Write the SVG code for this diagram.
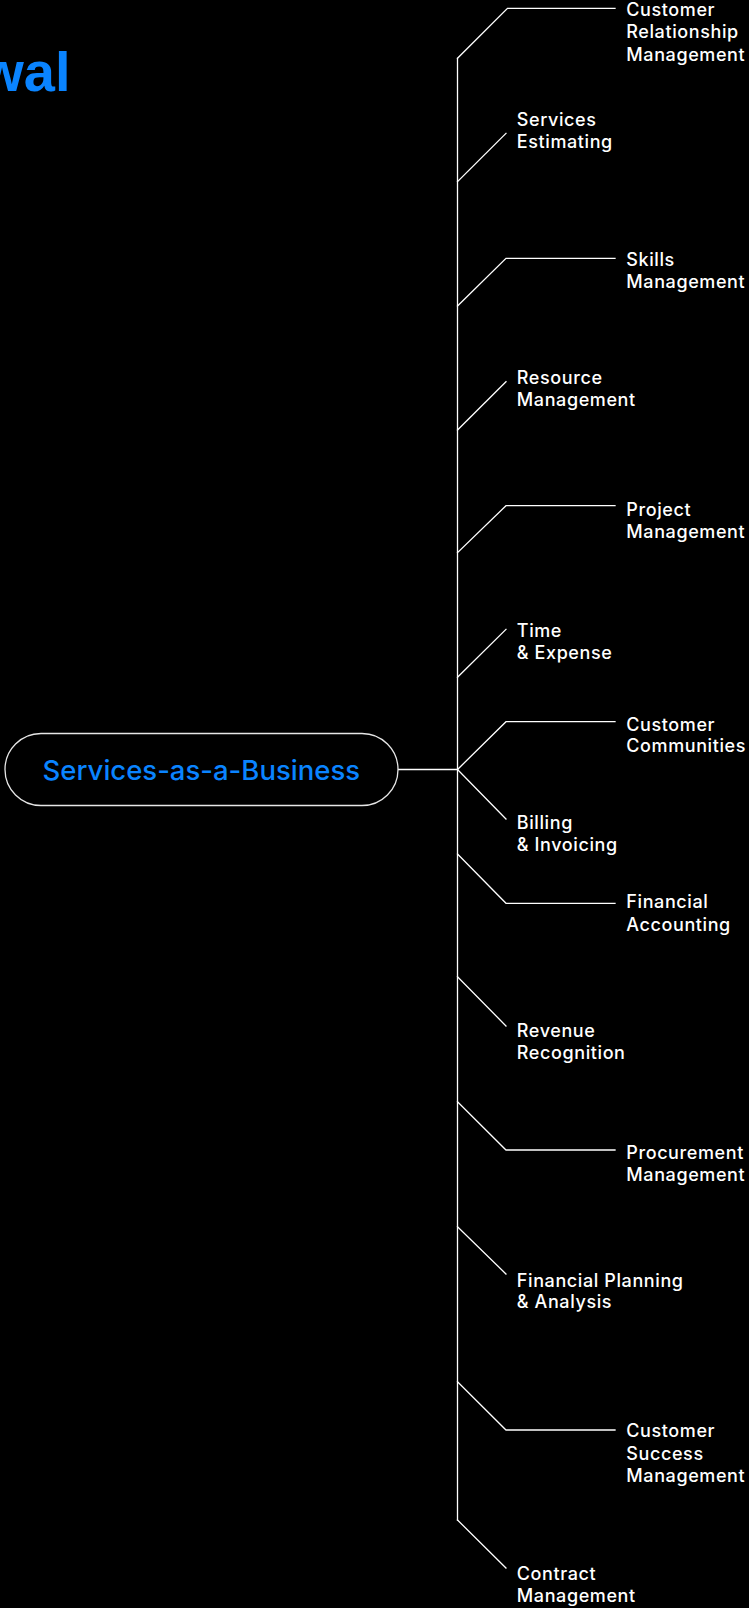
<svg xmlns="http://www.w3.org/2000/svg" width="749" height="1608" viewBox="0 0 749 1608">
  <style>
    .bg { fill: #000000; }
    .link { fill: none; stroke: #ffffff; stroke-width: 1.3; stroke-linecap: square; stroke-linejoin: miter; }
    .pill { fill: #000000; stroke: #e6e6e6; stroke-width: 1.3; }
    .label { font-family: Inter, "Liberation Sans", sans-serif; font-size: 18px; font-weight: 500; fill: #ffffff; letter-spacing: 0.6px; }
    .hub { font-family: Inter, "Liberation Sans", sans-serif; font-size: 27.5px; font-weight: 500; fill: #0a84ff; }
    .title { font-family: "Liberation Sans", Arial, sans-serif; font-size: 56px; font-weight: 700; fill: #0a84ff; }
  </style>

  <rect class="bg" x="0" y="0" width="749" height="1608"/>

  <!-- page heading, running off the left edge -->
  <text class="title" x="70.5" y="91" text-anchor="end">wal</text>

  <!-- spine and branches -->
  <g id="connectors">
    <path class="link" d="M398 769.5 H457.5"/>
    <path class="link" d="M457.5 58.3 V1520"/>
    <path class="link" d="M457.5 58.3 L507.5 8.3 H615"/>
    <path class="link" d="M457.5 181.7 L506 133.3"/>
    <path class="link" d="M457.5 306 L506 258.3 H615"/>
    <path class="link" d="M457.5 430 L506 381.7"/>
    <path class="link" d="M457.5 552.7 L506 505.7 H615"/>
    <path class="link" d="M457.5 677.3 L506 629.3"/>
    <path class="link" d="M457.5 769.5 L506 721.7 H615"/>
    <path class="link" d="M457.5 769.5 L506 819"/>
    <path class="link" d="M457.5 854 L506 903.3 H615"/>
    <path class="link" d="M457.5 976.7 L506 1026"/>
    <path class="link" d="M457.5 1101.7 L506 1150 H615"/>
    <path class="link" d="M457.5 1226.7 L506 1274"/>
    <path class="link" d="M457.5 1381.7 L506 1430 H615"/>
    <path class="link" d="M457.5 1520 L506 1568"/>
  </g>

  <!-- central node -->
  <g id="services-as-a-business">
    <rect class="pill" x="5" y="733.5" width="393" height="72" rx="36" ry="36"/>
    <text class="hub" x="201.3" y="780" text-anchor="middle">Services-as-a-Business</text>
  </g>

  <!-- capability nodes -->
  <g id="customer-relationship-management">
    <text class="label"><tspan x="626.3" y="15.7">Customer</tspan><tspan x="626.3" y="38.3">Relationship</tspan><tspan x="626.3" y="61">Management</tspan></text>
  </g>
  <g id="services-estimating">
    <text class="label"><tspan x="516.8" y="125.7">Services</tspan><tspan x="516.8" y="147.7">Estimating</tspan></text>
  </g>
  <g id="skills-management">
    <text class="label"><tspan x="626.3" y="265.7">Skills</tspan><tspan x="626.3" y="288.3">Management</tspan></text>
  </g>
  <g id="resource-management">
    <text class="label"><tspan x="516.8" y="384.3">Resource</tspan><tspan x="516.8" y="406">Management</tspan></text>
  </g>
  <g id="project-management">
    <text class="label"><tspan x="626.3" y="515.7">Project</tspan><tspan x="626.3" y="538.3">Management</tspan></text>
  </g>
  <g id="time-expense">
    <text class="label"><tspan x="516.8" y="637.3">Time</tspan><tspan x="516.8" y="659.3">&amp; Expense</tspan></text>
  </g>
  <g id="customer-communities">
    <text class="label"><tspan x="626.3" y="730.7">Customer</tspan><tspan x="626.3" y="752.3">Communities</tspan></text>
  </g>
  <g id="billing-invoicing">
    <text class="label"><tspan x="516.8" y="829.3">Billing</tspan><tspan x="516.8" y="851">&amp; Invoicing</tspan></text>
  </g>
  <g id="financial-accounting">
    <text class="label"><tspan x="626.3" y="908.3">Financial</tspan><tspan x="626.3" y="930.7">Accounting</tspan></text>
  </g>
  <g id="revenue-recognition">
    <text class="label"><tspan x="516.8" y="1037.3">Revenue</tspan><tspan x="516.8" y="1059.3">Recognition</tspan></text>
  </g>
  <g id="procurement-management">
    <text class="label"><tspan x="626.3" y="1159.3">Procurement</tspan><tspan x="626.3" y="1180.7">Management</tspan></text>
  </g>
  <g id="financial-planning-analysis">
    <text class="label"><tspan x="516.8" y="1286.7">Financial Planning</tspan><tspan x="516.8" y="1308.3">&amp; Analysis</tspan></text>
  </g>
  <g id="customer-success-management">
    <text class="label"><tspan x="626.3" y="1437">Customer</tspan><tspan x="626.3" y="1459.6">Success</tspan><tspan x="626.3" y="1482">Management</tspan></text>
  </g>
  <g id="contract-management">
    <text class="label"><tspan x="516.8" y="1580">Contract</tspan><tspan x="516.8" y="1602">Management</tspan></text>
  </g>
</svg>
